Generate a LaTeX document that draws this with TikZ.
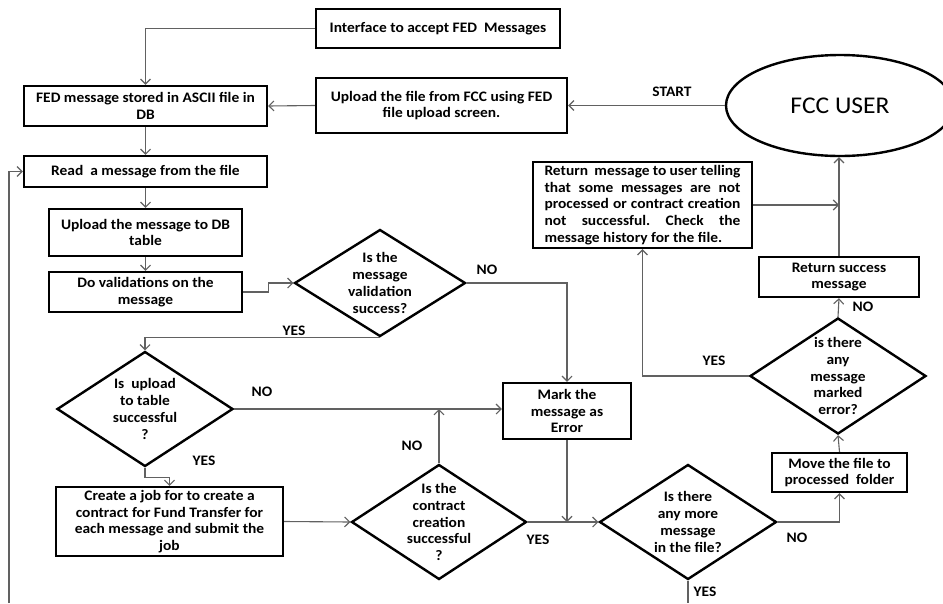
\documentclass[tikz,border=0pt]{standalone}
\usepackage{fontspec}
\setmainfont[FakeStretch=1.065]{Carlito}
\usetikzlibrary{shapes.geometric,arrows.meta}
\frenchspacing
\newcommand\fsz{\fontsize{14.5}{16.7}\selectfont\bfseries}
\tikzset{
  box/.style={draw=black, line width=2.4pt, inner sep=2pt, align=center, font=\fsz},
  dia/.style={draw=black, line width=2.4pt, diamond, inner sep=0pt},
  dtxt/.style={align=center, font=\fsz, inner sep=0pt},
  conn/.style={draw=black!62, line width=1.1pt, -{Straight Barb[length=5pt,width=10pt]}},
  plain/.style={draw=black!62, line width=1.1pt},
  lbl/.style={font=\fsz, inner sep=0pt},
}
\begin{document}
\begin{tikzpicture}[x=1pt,y=-1pt]
\useasboundingbox[fill=white] (0,0) rectangle (943,603);
% boxes
\node[box, minimum width=244, minimum height=39] (iface) at (438,28.5) {Interface to accept FED\ \ Messages};
\node[box, minimum width=251, minimum height=55] (upfile) at (441.5,105.5) {Upload the file from FCC using FED\\file upload screen.};
\node[box, minimum width=243, minimum height=40] (stored) at (145.5,106) {FED message stored in ASCII file in\\DB};
\node[box, minimum width=243, minimum height=31] (read) at (145.5,171.5) {Read\ \ a message from the file};
\node[box, minimum width=193, minimum height=47] (updb) at (145.5,232.5) {Upload the message to DB\\table};
\node[box, minimum width=193, minimum height=40] (valid) at (145.5,292) {Do validations on the\\message};
\node[box, minimum width=227, minimum height=69] (job) at (169.5,521.5) {Create a job for to create a\\contract for Fund Transfer for\\each message and submit the\\job};
\node[box, minimum width=128, minimum height=56] (mark) at (567,411) {Mark the\\message as\\Error};
\node[box, minimum width=135, minimum height=39] (move) at (839.5,472.5) {Move the file to\\processed\ \ folder};
\node[box, minimum width=160, minimum height=40] (succ) at (839,277) {Return success\\message};
\node[box, minimum width=219, minimum height=86, align=left] (retmsg) at (642.5,205) {%
\makebox[196pt][s]{Return\ \ message to user telling}\\
\makebox[196pt][s]{that some messages are not}\\
\makebox[196pt][s]{processed or contract creation}\\
\makebox[196pt][s]{not successful. Check the}\\
message history for the file.};
\node[draw=black, line width=2.4pt, ellipse, minimum width=228, minimum height=101, font=\fontsize{24}{29}\selectfont] (user) at (840,105.5) {FCC USER};
% diamonds
\node[dia, minimum width=171, minimum height=107] (dval) at (380,283) {};
\node[dtxt] at (dval) {Is the\\message\\validation\\success?};
\node[dia, minimum width=176, minimum height=115] (dupl) at (145,409) {};
\node[dtxt] at (dupl) {Is\ \ upload\\to table\\successful\\?};
\node[dia, minimum width=175, minimum height=115] (dcon) at (439,522) {};
\node[dtxt] at (dcon) {Is the\\contract\\creation\\successful\\?};
\node[dia, minimum width=177, minimum height=115] (dmore) at (688,522) {};
\node[dtxt] at (dmore) {Is there\\any more\\message\\in the file?};
\node[dia, minimum width=176, minimum height=116] (derr) at (838,376) {};
\node[dtxt] at (derr) {is there\\any\\message\\marked\\error?};
% free ends
\coordinate (lbot) at (9,603);
\coordinate (mbot) at (688,603);
% connectors
\draw[conn] (iface.west) -| (stored.north);
\draw[conn] (upfile.west) -- (stored.east);
\draw[conn] (user.west) -- (upfile.east);
\draw[conn] (stored.south) -- (read.north);
\draw[conn] (read.south) -- (updb.north);
\draw[conn] (updb.south) -- (valid.north);
\draw[conn] (valid.east) -- ++(25,0) |- (dval.west);
\draw[conn] (dval.south) -| (dupl.north);
\draw[conn] (dval.east) -| (mark.north);
\draw[conn] (dupl.east) -- (dupl.east -| mark.west);
\draw[conn] (dupl.south) -- ++(0,10) -| (job.north);
\draw[conn] (job.east) -- (dcon.west);
\draw[conn] (dcon.north) -- (dcon.north |- dupl.east);
\draw[conn] (dcon.east) -- (dmore.west);
\draw[conn] (mark.south) -- (mark.south |- dmore.west);
\draw[plain] (dmore.south) -- (mbot);
\draw[conn] (dmore.east) -| (move.south);
\draw[conn] (move.north) -- (derr.south);
\draw[conn] (derr.north) -- (succ.south);
\draw[conn] (derr.west) -| (retmsg.south);
\draw[conn] (succ.north) -- (succ.north |- user.south);
\draw[conn] (retmsg.east) -- (retmsg.east -| succ.north);
\draw[conn] (lbot) |- (read.west);
% labels
\node[lbl] (l1) at (672,92) {START};
\node[lbl] (l2) at (294,331) {YES};
\node[lbl] (l3) at (487,270) {NO};
\node[lbl] (l4) at (262,392) {NO};
\node[lbl] (l5) at (204,461) {YES};
\node[lbl] (l6) at (412,446) {NO};
\node[lbl] (l7) at (538,540) {YES};
\node[lbl] (l8) at (705,592) {YES};
\node[lbl] (l9) at (797,538) {NO};
\node[lbl] (l10) at (863,307) {NO};
\node[lbl] (l11) at (714,361) {YES};
\end{tikzpicture}
\end{document}
